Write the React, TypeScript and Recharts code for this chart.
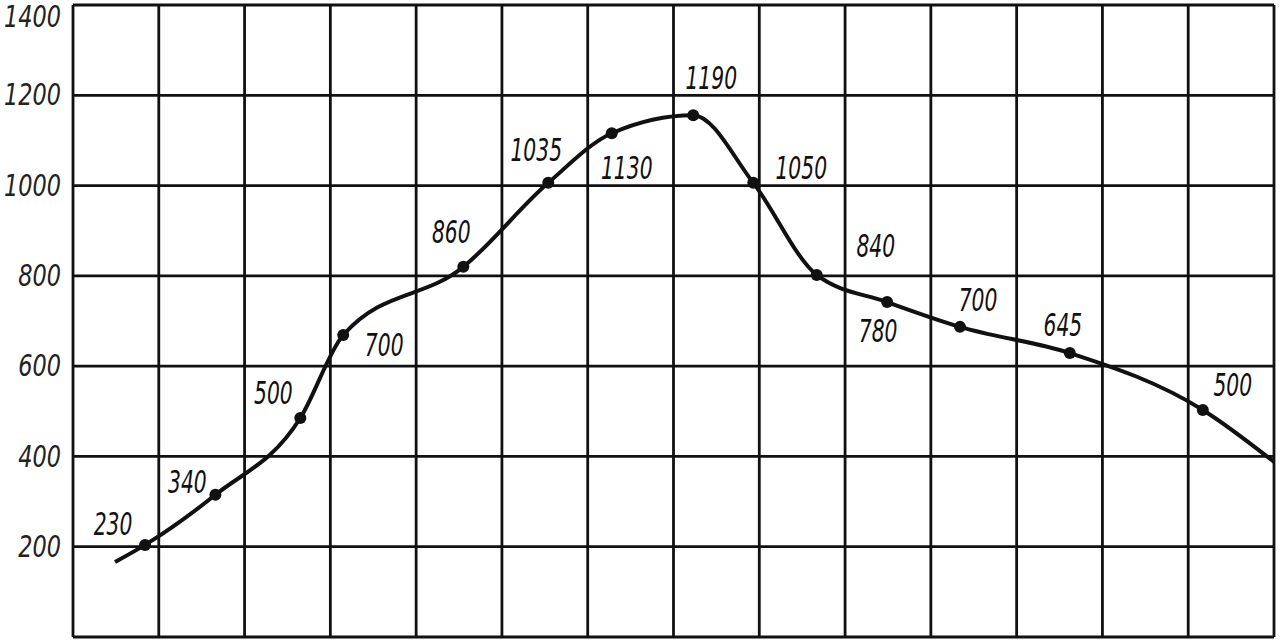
import { LineChart, Line, XAxis, YAxis, CartesianGrid } from "recharts";

// grid columns (no labels on the horizontal axis)
const COLUMN_TICKS = [0, 1, 2, 3, 4, 5, 6, 7, 8, 9, 10, 11, 12, 13, 14];
const VALUE_TICKS = [0, 200, 400, 600, 800, 1000, 1200, 1400];

// curve points (x in grid columns)
const CURVE_X = [0.49, 0.84, 1.66, 2.65, 3.15, 4.55, 5.54, 6.28, 7.23, 7.93, 8.67, 9.49, 10.34, 11.62, 13.17, 14.0];
const CURVE_Y = [166, 204, 315, 485, 669, 820, 1006, 1116, 1156, 1006, 802, 742, 687, 629, 503, 388];
const POINT_LABELS = ["", "230", "340", "500", "700", "860", "1035", "1130", "1190", "1050", "840", "780", "700", "645", "500", ""];

// where each label sits relative to its dot
const LABEL_OFFSETS: [number, number][] = [
  [0, 0], [-32, -21], [-28, -13], [-27, -25], [41, 10], [-12, -35], [-12, -33], [15, 34],
  [18, -37], [48, -15], [59, -29], [-9, 29], [18, -27], [-7, -28], [30, -25], [0, 0],
];

const data = CURVE_X.map((x, i) => ({ x, y: CURVE_Y[i], label: POINT_LABELS[i] }));

const FONT = "'DejaVu Sans', sans-serif";
const INK = "#111";
// hand lettering is narrow and tall
const NARROW = "scale(0.7,1.1)";
const AXIS_NARROW = "scale(0.8,1.05)";

function ValueTick({ x, y, payload }: any) {
  if (payload.value === 0) return <g />;
  const shift = payload.value === 1400 ? 12 : 0;
  return (
    <text
      transform={`translate(${x},${y + shift}) ${AXIS_NARROW}`}
      x={0}
      y={0}
      textAnchor="end"
      dominantBaseline="central"
      fontFamily={FONT}
      fontStyle="italic"
      fontSize={28}
      fill="#222"
    >
      {payload.value}
    </text>
  );
}

function MarkedPoint(props: any) {
  const { cx, cy, index, payload } = props;
  if (!payload.label) return <g key={`p-${index}`} />;
  const [dx, dy] = LABEL_OFFSETS[index];
  return (
    <g key={`p-${index}`}>
      <circle cx={cx} cy={cy} r={6} fill={INK} />
      <text
        transform={`translate(${cx + dx},${cy + dy}) ${NARROW}`}
        x={0}
        y={0}
        textAnchor="middle"
        dominantBaseline="central"
        fontFamily={FONT}
        fontStyle="italic"
        fontSize={29}
        fill={INK}
      >
        {payload.label}
      </text>
    </g>
  );
}

export default function App() {
  return (
    <div style={{ position: "absolute", left: 0, top: 0, width: 1280, height: 643, background: "#fff" }}>
      <LineChart width={1280} height={643} data={data} margin={{ top: 5, right: 6, bottom: 6, left: 0 }}>
        <CartesianGrid stroke={INK} strokeWidth={2.8} />
        <XAxis dataKey="x" type="number" domain={[0, 14]} ticks={COLUMN_TICKS} hide />
        <YAxis
          type="number"
          domain={[0, 1400]}
          ticks={VALUE_TICKS}
          width={73}
          axisLine={false}
          tickLine={false}
          tickSize={0}
          tickMargin={12}
          tick={<ValueTick />}
          interval={0}
        />
        <Line
          type="monotone"
          dataKey="y"
          stroke={INK}
          strokeWidth={4}
          dot={MarkedPoint}
          activeDot={false}
          isAnimationActive={false}
        />
      </LineChart>
    </div>
  );
}
